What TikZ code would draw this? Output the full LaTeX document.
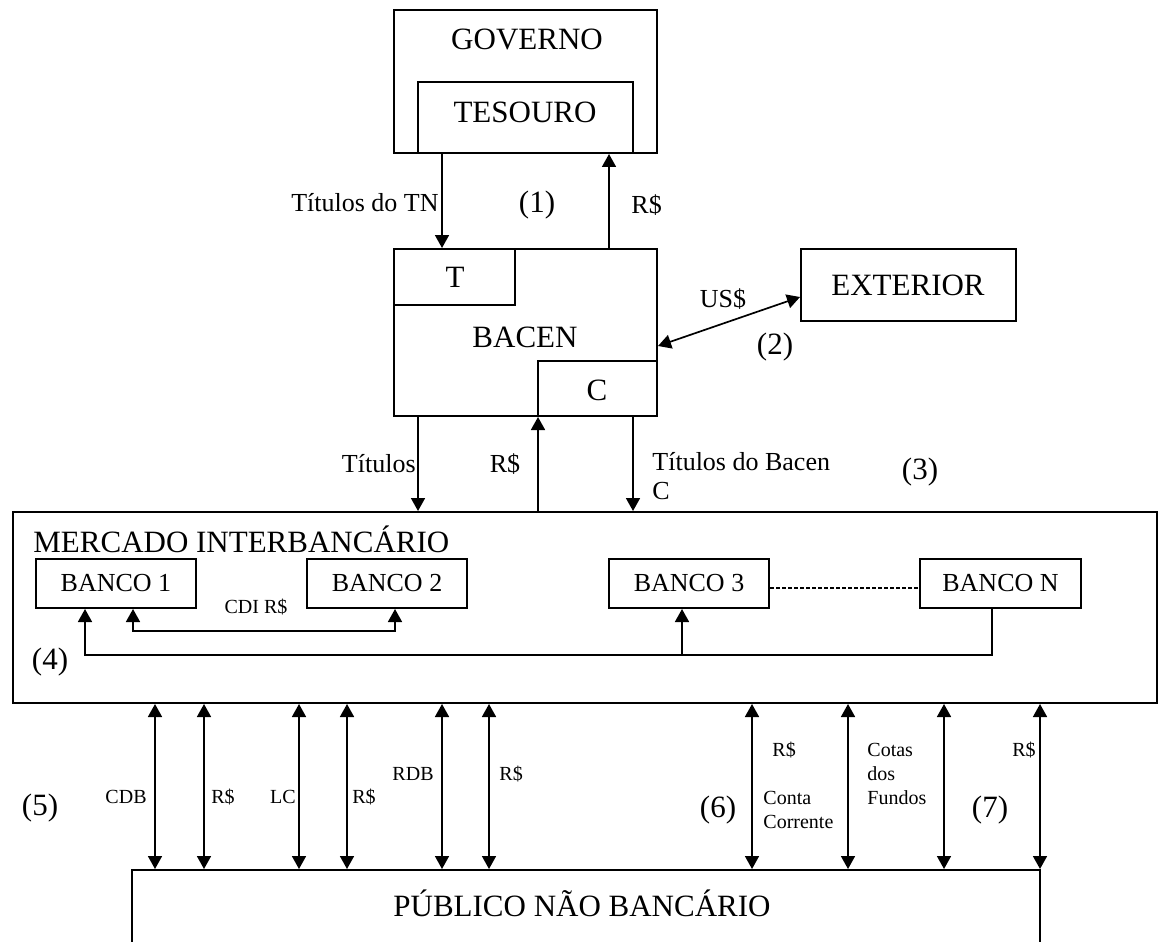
\documentclass[tikz,border=0pt]{standalone}
\usepackage{fontspec}
\setmainfont{Liberation Serif}
\usetikzlibrary{arrows.meta,fit,positioning}

\begin{document}
\begin{tikzpicture}[x=0.5pt,y=-0.5pt]
  % Styles
  \tikzstyle{box}=[draw,line width=1pt,inner sep=0pt]
  \tikzstyle{big}=[inner sep=0pt,font=\fontsize{15.5}{17}\selectfont]
  \tikzstyle{mid}=[inner sep=0pt,font=\fontsize{13}{14.5}\selectfont,align=left]
  \tikzstyle{small}=[inner sep=0pt,font=\fontsize{10}{12}\selectfont,align=left]
  \tikzstyle{flow}=[line width=0.85pt,-{Triangle[width=7pt,length=6.5pt]}]
  \tikzstyle{both}=[line width=0.85pt,{Triangle[width=7pt,length=6.5pt]}-{Triangle[width=7pt,length=6.5pt]}]

  % Page
  \useasboundingbox (0,0) rectangle (1159,941);
  \clip (0,0) rectangle (1159,941);

  % Boxes
  \node[box,fit={(394,10) (657,153)}] (gov) {};
  \node[box,fit={(418,82) (633,153)}] (tes) {};
  \node[box,fit={(394,249) (657,416)}] (bacen) {};
  \node[box,fit={(394,249) (515,305)}] (t) {};
  \node[box,fit={(538,361) (657,416)}] (c) {};
  \node[box,fit={(801,249) (1016,321)}] (ext) {};
  \node[box,fit={(13,512) (1157,703)}] (merc) {};
  \node[box,fit={(36,559) (196,608)}] (b1) {};
  \node[box,fit={(307,559) (467,608)}] (b2) {};
  \node[box,fit={(609,559) (769,608)}] (b3) {};
  \node[box,fit={(920,559) (1081,608)}] (bn) {};
  \node[box,fit={(132,870) (1040,960)}] (pub) {};

  % Texts in the boxes
  \node[big] (govtxt) at (527,39) {GOVERNO};
  \node[big] (testxt) at (525,112) {TESOURO};
  \node[big] (ttxt) at (455,277) {T};
  \node[big] (bacentxt) at (525,337) {BACEN};
  \node[big] (ctxt) at (597,390) {C};
  \node[big] (exttxt) at (908,285) {EXTERIOR};
  \node[big,anchor=base west] (merctxt) at (33,552) {MERCADO INTERBANCÁRIO};
  \node[mid] (b1txt) at (b1) {BANCO 1};
  \node[mid] (b2txt) at (b2) {BANCO 2};
  \node[mid] (b3txt) at (b3) {BANCO 3};
  \node[mid] (bntxt) at (bn) {BANCO N};
  \node[big] (pubtxt) at (582,903) {PÚBLICO NÃO BANCÁRIO};

  % Governo - Bacen
  \draw[flow] (442,0 |- tes.south) -- (442,0 |- bacen.north);
  \draw[flow] (609,0 |- bacen.north) -- (609,0 |- tes.south);
  \node[mid,anchor=east] (ltn) at (439,203) {Títulos do TN};
  \node[mid,anchor=west] (lrs1) at (631,205) {R\$};
  \node[big] (n1) at (537,205) {(1)};

  % Bacen - Exterior
  \draw[both] (bacen.east |- 0,346) -- (ext.west |- 0,297);
  \node[mid] (lus) at (723,299) {US\$};
  \node[big] (n2) at (775,347) {(2)};

  % Bacen - Mercado
  \draw[flow] (418,0 |- bacen.south) -- (418,0 |- merc.north);
  \draw[flow] (538,0 |- merc.north) -- (538,0 |- c.south);
  \draw[flow] (633,0 |- bacen.south) -- (633,0 |- merc.north);
  \node[mid,anchor=east] (ltit) at (416,464) {Títulos};
  \node[mid] (lrs2) at (505,464) {R\$};
  \node[mid,anchor=north west] (ltb) at (652,452) {Títulos do Bacen\\C};
  \node[big] (n3) at (920,472) {(3)};

  % Interbancario
  \coordinate (jn) at (682,655);
  \draw[line width=0.8pt,{Triangle[width=7pt,length=6.5pt]}-{Triangle[width=7pt,length=6.5pt]}]
    (133,0 |- b1.south) -- (133,631) -- (395,631) -- (395,0 |- b2.south);
  \draw[line width=0.8pt,{Triangle[width=7pt,length=6.5pt]}-]
    (85,0 |- b1.south) -- (85,655) -- (992,655) -- (992,0 |- bn.south);
  \draw[flow] (jn) -- (jn |- b3.south);
  \draw[line width=1pt,dash pattern=on 2pt off 1pt] (b3.east |- 0,588) -- (bn.west |- 0,588);
  \node[small] (lcdi) at (256,607) {CDI R\$};
  \node[big] (n4) at (50,662) {(4)};

  % Mercado - Publico
  \foreach \x in {155,204,299,347,442,489,752,848,944,1040}
    \draw[both] (\x,0 |- merc.south) -- (\x,0 |- pub.north);
  \node[small,anchor=east] (lcdb) at (147,797) {CDB};
  \node[small,anchor=west] (lrs3) at (211,797) {R\$};
  \node[small,anchor=east] (llc) at (296,797) {LC};
  \node[small,anchor=west] (lrs4) at (352,797) {R\$};
  \node[small,anchor=east] (lrdb) at (434,774) {RDB};
  \node[small,anchor=west] (lrs5) at (499,774) {R\$};
  \node[small,anchor=west] (lrs6) at (772,750) {R\$};
  \node[small,anchor=west] (lcc) at (763,810) {Conta\\Corrente};
  \node[small,anchor=west] (lcf) at (867,774) {Cotas\\dos\\Fundos};
  \node[small,anchor=east] (lrs7) at (1036,750) {R\$};
  \node[big] (n5) at (40,808) {(5)};
  \node[big] (n6) at (718,810) {(6)};
  \node[big] (n7) at (990,810) {(7)};
\end{tikzpicture}
\end{document}
